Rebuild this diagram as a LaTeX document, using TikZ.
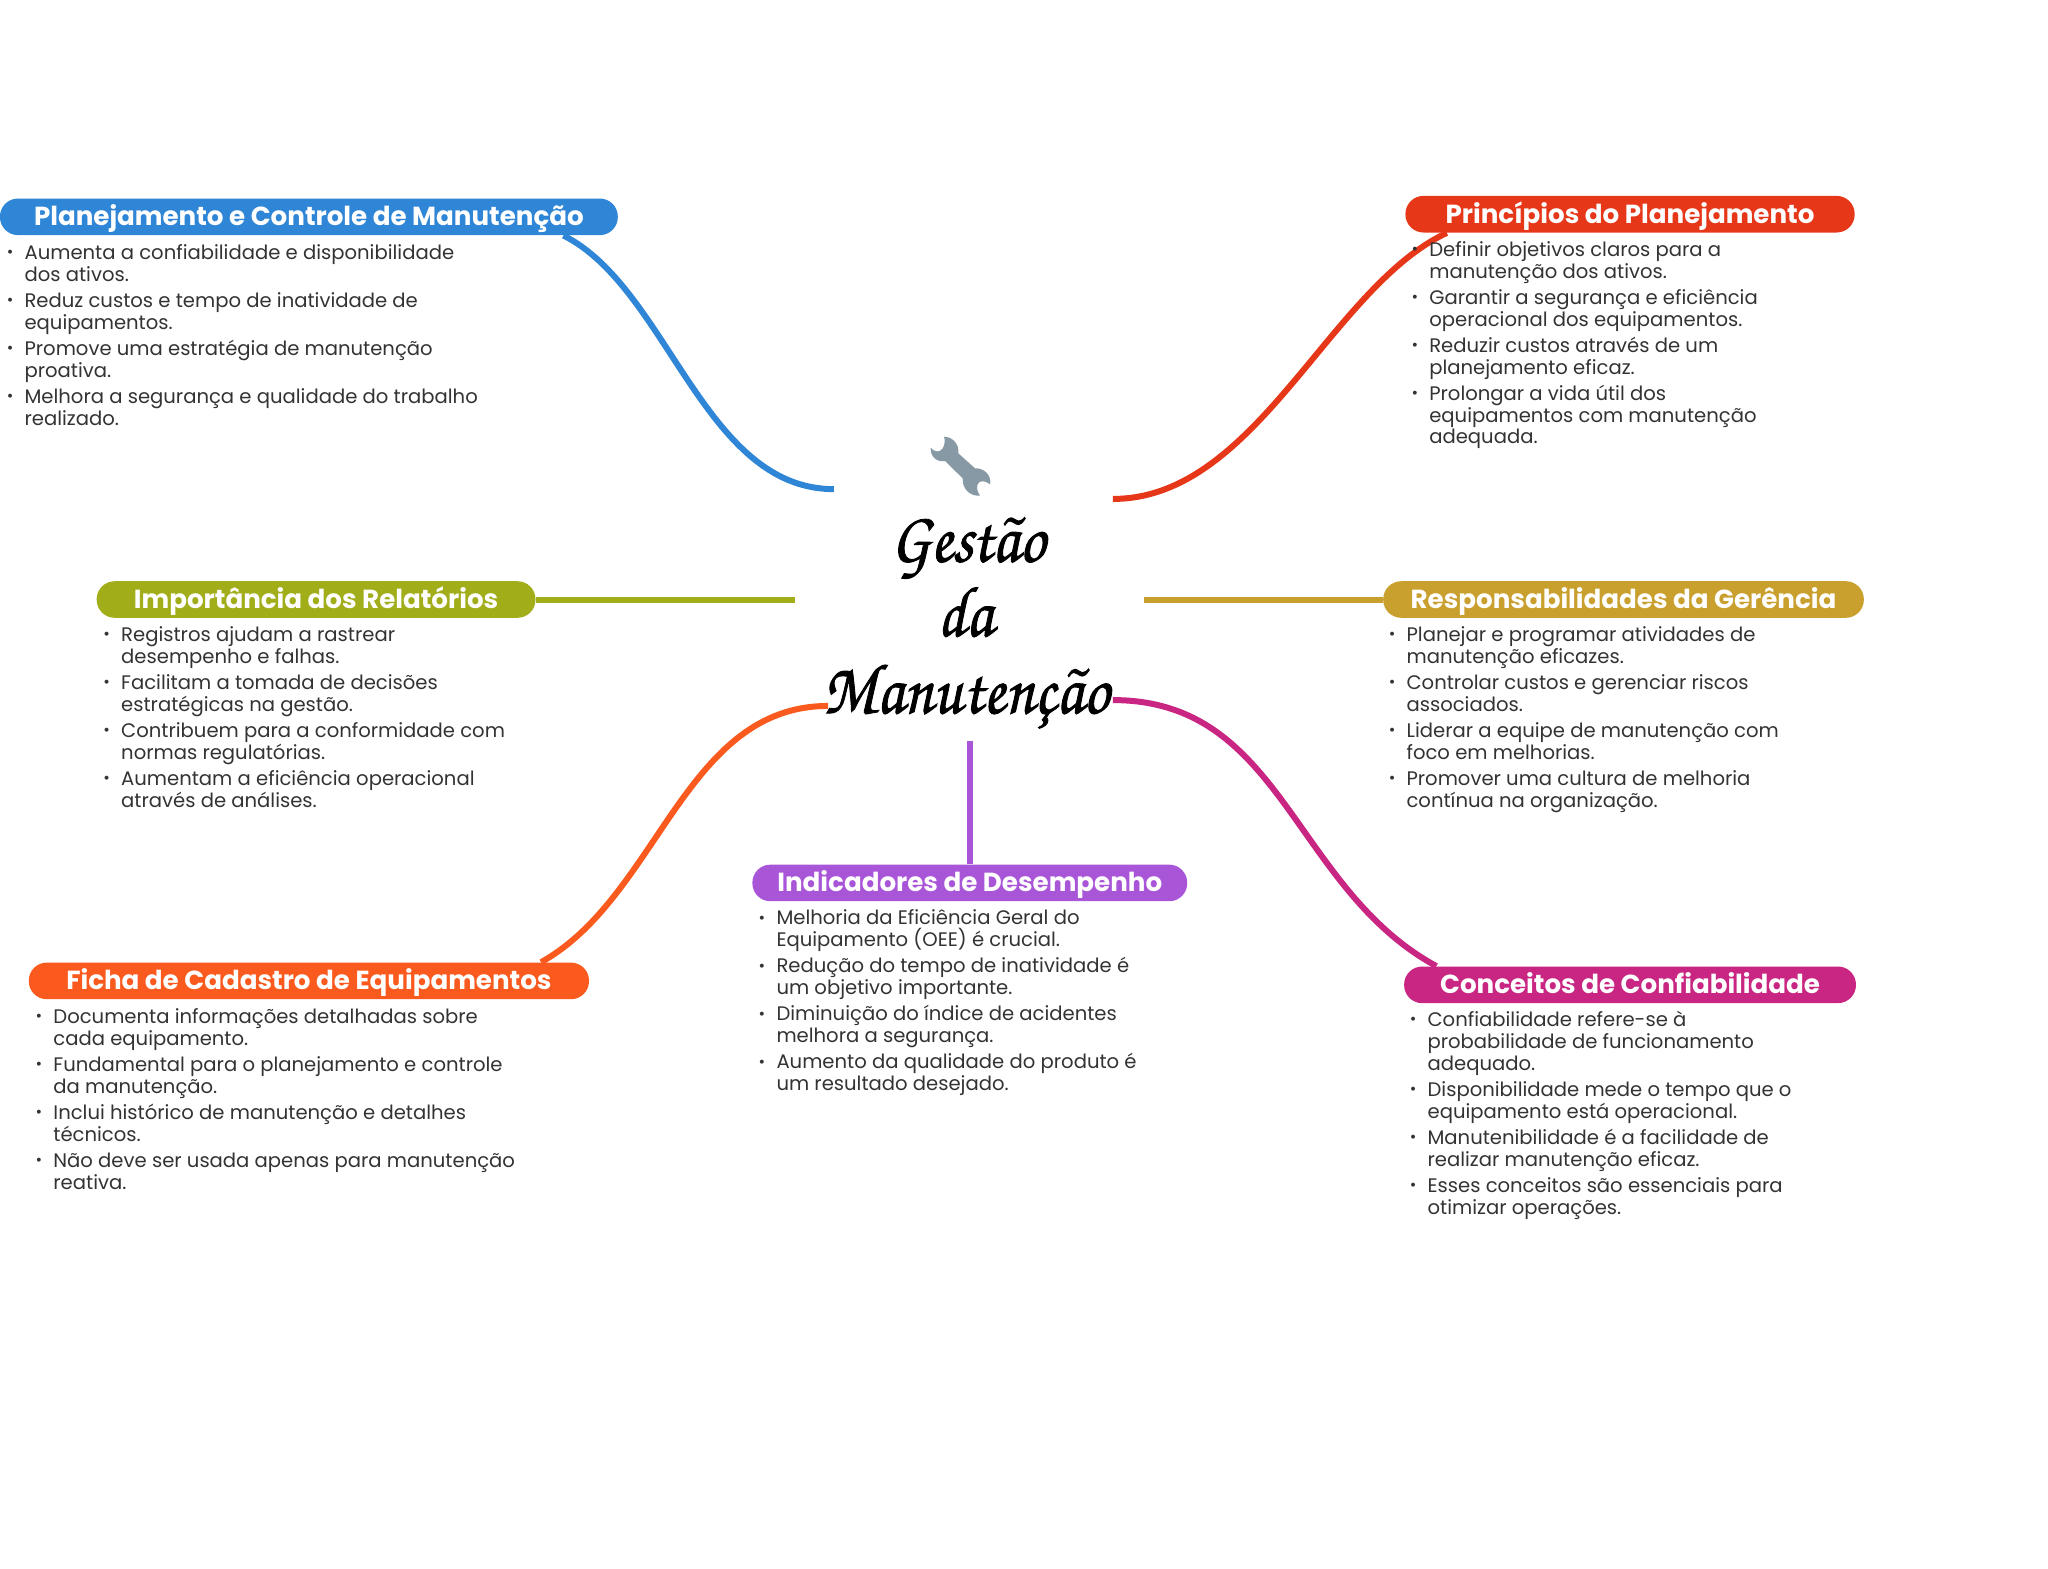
\documentclass[tikz,border=0pt]{standalone}
\usepackage{fontspec}
\setmainfont{Poppins}
\newfontfamily\titlefont[FakeStretch=0.89,FakeBold=1.2]{TeX Gyre Chorus}
\usetikzlibrary{backgrounds,calc}
\definecolor{cblue}{HTML}{2F86D6}
\definecolor{cred}{HTML}{E63719}
\definecolor{colive}{HTML}{A2AD1A}
\definecolor{cgold}{HTML}{C9A02E}
\definecolor{cpurple}{HTML}{A855D8}
\definecolor{corange}{HTML}{FA5A1E}
\definecolor{cmagenta}{HTML}{C82682}
\definecolor{cbody}{HTML}{333333}
\definecolor{cwrench}{HTML}{8899A6}
\newcommand{\B}{\leavevmode\llap{\raisebox{0.8pt}{\fontsize{8}{8}\selectfont •}\hspace{5.6pt}}}
\tikzset{
  x=0.653pt,y=-0.653pt,
  pill/.style={fill=#1,rounded corners=9pt,text=white,inner sep=0pt,anchor=center,
    text height=11.5pt,text depth=2.5pt,minimum height=18.3pt,
    font=\fontsize{13.07}{16}\selectfont\bfseries},
  body/.style={anchor=north west,align=left,inner sep=0pt,text=cbody,
    font=\fontsize{9.8}{10.9}\selectfont},
  link/.style={draw=#1,line width=3pt},
  title/.style={font=\titlefont\fontsize{36}{39}\selectfont,anchor=base,inner sep=0pt}
}
\begin{document}
\begin{tikzpicture}
\useasboundingbox (0,0) rectangle (1568,1201);
\node[pill=cblue,minimum width=308.9pt] (plan) at (236.5,166) {Planejamento e Controle de Manutenção};
\node[pill=cred,minimum width=224.6pt] (princ) at (1248,164) {Princípios do Planejamento};
\node[pill=colive,minimum width=219.4pt] (imp) at (242,459) {Importância dos Relatórios};
\node[pill=cgold,minimum width=240.3pt] (resp) at (1243,459) {Responsabilidades da Gerência};
\node[pill=cpurple,minimum width=217.4pt] (ind) at (742.5,676) {Indicadores de Desempenho};
\node[pill=corange,minimum width=280.1pt] (ficha) at (236.5,751) {Ficha de Cadastro de Equipamentos};
\node[pill=cmagenta,minimum width=225.9pt] (conc) at (1248,754) {Conceitos de Confiabilidade};

\node[body] (bplan) at (18.5,186.7) {\B Aumenta a confiabilidade e disponibilidade\\dos ativos.\\[2.2pt]\B Reduz custos e tempo de inatividade de\\equipamentos.\\[2.2pt]\B Promove uma estratégia de manutenção\\proativa.\\[2.2pt]\B Melhora a segurança e qualidade do trabalho\\realizado.};
\node[body] (bprinc) at (1094,184.5) {\B Definir objetivos claros para a\\manutenção dos ativos.\\[2.2pt]\B Garantir a segurança e eficiência\\operacional dos equipamentos.\\[2.2pt]\B Reduzir custos através de um\\planejamento eficaz.\\[2.2pt]\B Prolongar a vida útil dos\\equipamentos com manutenção\\adequada.};
\node[body] (bimp) at (92.5,479.2) {\B Registros ajudam a rastrear\\desempenho e falhas.\\[2.2pt]\B Facilitam a tomada de decisões\\estratégicas na gestão.\\[2.2pt]\B Contribuem para a conformidade com\\normas regulatórias.\\[2.2pt]\B Aumentam a eficiência operacional\\através de análises.};
\node[body] (bresp) at (1076.6,479.2) {\B Planejar e programar atividades de\\manutenção eficazes.\\[2.2pt]\B Controlar custos e gerenciar riscos\\associados.\\[2.2pt]\B Liderar a equipe de manutenção com\\foco em melhorias.\\[2.2pt]\B Promover uma cultura de melhoria\\contínua na organização.};
\node[body] (bind) at (594.2,696.2) {\B Melhoria da Eficiência Geral do\\Equipamento (OEE) é crucial.\\[2.2pt]\B Redução do tempo de inatividade é\\um objetivo importante.\\[2.2pt]\B Diminuição do índice de acidentes\\melhora a segurança.\\[2.2pt]\B Aumento da qualidade do produto é\\um resultado desejado.};
\node[body] (bficha) at (40.6,771.7) {\B Documenta informações detalhadas sobre\\cada equipamento.\\[2.2pt]\B Fundamental para o planejamento e controle\\da manutenção.\\[2.2pt]\B Inclui histórico de manutenção e detalhes\\técnicos.\\[2.2pt]\B Não deve ser usada apenas para manutenção\\reativa.};
\node[body] (bconc) at (1092.7,773.8) {\B Confiabilidade refere-se à\\probabilidade de funcionamento\\adequado.\\[2.2pt]\B Disponibilidade mede o tempo que o\\equipamento está operacional.\\[2.2pt]\B Manutenibilidade é a facilidade de\\realizar manutenção eficaz.\\[2.2pt]\B Esses conceitos são essenciais para\\otimizar operações.};

\node[title] (t1) at (741,430) {Gestão};
\node[title] (t2) at (739,487) {da};
\node[title] (t3) at (739.5,546) {Manutenção};

\coordinate (eplan) at (638.5,374.5);
\coordinate (eprinc) at (852,382);
\coordinate (eimp) at (608.5,459);
\coordinate (eresp) at (876,459);
\coordinate (eind) at (742.5,567);
\coordinate (eficha) at (634,540.5);
\coordinate (econc) at (852,536);
\begin{scope}[on background layer]
\draw[link=cblue] ([xshift=-27.4pt]plan.south east) .. controls +(80,40) and (538.5,374.5) .. (eplan);
\draw[link=cred] ([xshift=20.9pt]princ.south west) .. controls +(-90,42) and (962,382) .. (eprinc);
\draw[link=colive] (imp.east) -- (eimp);
\draw[link=cgold] (resp.west) -- (eresp);
\draw[link=cpurple] (ind.north) -- (eind);
\draw[link=corange] ([xshift=-24.2pt]ficha.north east) .. controls +(90,-50) and (524,540.5) .. (eficha);
\draw[link=cmagenta] ([xshift=16.3pt]conc.north west) .. controls +(-110,-60) and (982,536) .. (econc);
\end{scope}
\begin{scope}[shift={(704.4,325.4)},x=0.1667pt,y=-0.1667pt]
\fill[cwrench] (72,35) .. controls (95,35) and (118,55) .. (115,85) -- (165,130) .. controls (190,128) and (216,150) .. (210,178) .. controls (195,165) and (175,165) .. (172,180) .. controls (170,192) and (172,200) .. (180,212) .. controls (150,215) and (125,190) .. (128,160) -- (75,108) .. controls (50,112) and (30,95) .. (32,68) .. controls (42,80) and (58,85) .. (68,70) .. controls (75,58) and (75,45) .. (72,35) -- cycle;
\end{scope}
\end{tikzpicture}
\end{document}
